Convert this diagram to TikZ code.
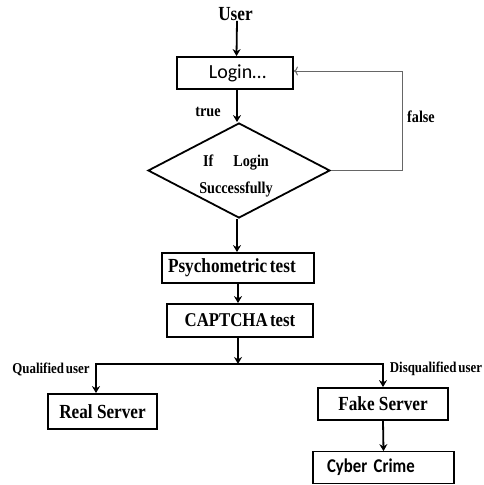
\documentclass[tikz,border=0pt]{standalone}
\usepackage{fontspec}
\setmainfont{Liberation Serif}
\newfontfamily\cfont{Carlito}
\newfontfamily\sfont[FakeStretch=0.86]{Liberation Serif}
\newfontfamily\cbold[FakeStretch=0.86]{Carlito}
\usetikzlibrary{shapes.geometric,arrows.meta}
\newcommand{\tsp}{\hspace{0.13em}}

\begin{document}
\begin{tikzpicture}[x=1pt,y=-1pt,
    box/.style={draw,line width=1.8pt,inner sep=0pt,minimum height=#1},
    box/.default=32pt,
    lbl/.style={inner sep=0pt,font=\sfont\bfseries\fontsize{#1}{#1}\selectfont},
    lbl/.default=16.5pt,
    flow/.style={line width=1.8pt,-{Stealth[length=7pt,width=8pt]}}]
  \useasboundingbox (0,0) rectangle (483,485);
  \node[lbl=20pt] (user) at (235.5,14) {User};
  \node[box,minimum width=116pt,font=\cfont\fontsize{20pt}{20pt}\selectfont] (login) at (235,73) {\hspace*{5pt}Login\ldots};
  \node[draw,diamond,line width=1.8pt,minimum width=182pt,minimum height=95pt,inner sep=0pt] (cond) at (239,170.5) {};
  \node[lbl,align=center] (condtxt) at (236,176) {If\quad\ Login\\[11pt]Successfully};
  \node[box=30pt,text width=140pt,inner xsep=6pt,align=left,font=\sfont\bfseries\fontsize{20pt}{20pt}\selectfont] (psych) at (238,268) {Psychometric\tsp test};
  \node[box=33pt,minimum width=146pt,font=\sfont\bfseries\fontsize{19.5pt}{19.5pt}\selectfont] (captcha) at (240,320.5) {CAPTCHA\tsp test};
  \node[box=35pt,minimum width=109pt,font=\sfont\bfseries\fontsize{20pt}{20pt}\selectfont] (real) at (102.5,411.5) {Real Server};
  \node[box,minimum width=130pt,font=\sfont\bfseries\fontsize{20pt}{20pt}\selectfont] (fake) at (383,404) {Fake Server};
  \node[box,text width=113pt,inner xsep=14pt,align=left,font=\cbold\bfseries\fontsize{19.5pt}{19.5pt}\selectfont] (cyber) at (383.5,467.5) {Cyber Crime};
  \coordinate (junc) at (238,364);
  \coordinate (loop) at (402,71);

  % labels on the branches
  \node[lbl] (true) at (208,112) {true};
  \node[lbl] (false) at (421,117) {false};
  \node[lbl=15pt] (qual) at (51,369) {Qualified\tsp user};
  \node[lbl=15pt] (disq) at (436,369) {Disqualified\tsp user};

  \draw[flow] (user.south) ++(1.5,0) -- ([xshift=1.5pt]login.north);
  \draw[flow] ([xshift=2pt]login.south) -- ([xshift=-2pt]cond.north);
  \draw[flow] ([xshift=-2pt]cond.south) -- ([xshift=-1pt]psych.north);
  \draw[flow] (psych.south) -- ([xshift=-2pt]captcha.north);
  \draw[flow] ([xshift=-2pt]captcha.south) -- (junc);
  \draw[flow] (junc) -| ([xshift=-6.5pt]real.north);
  \draw[flow] (junc) -| (fake.north);
  \draw[flow] (fake.south) -- ([yshift=-0.5pt]cyber.north);
  \draw[gray!80!black,line width=1pt,-{To[length=4pt,width=9pt]}] (cond.east) -| (loop) -- (login.east |- loop);
\end{tikzpicture}
\end{document}
